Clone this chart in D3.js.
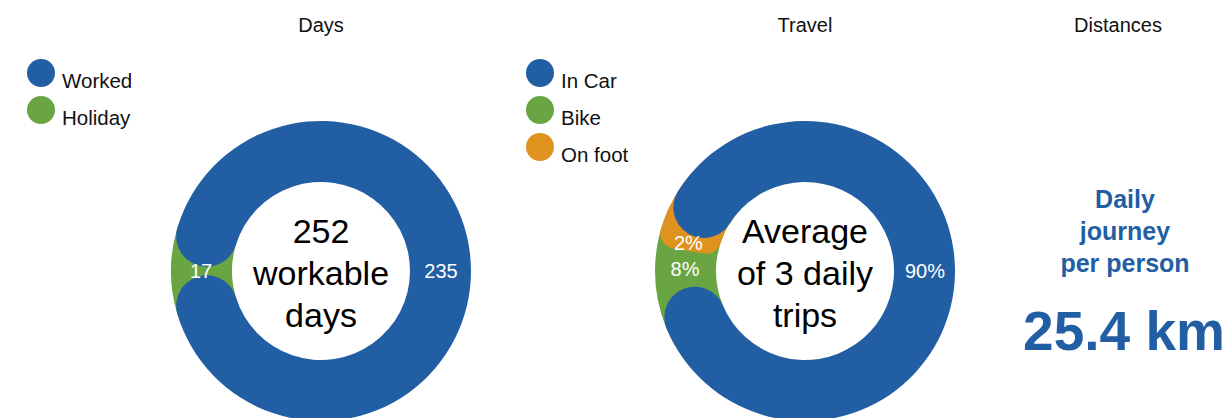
<!DOCTYPE html>
<html>
<head>
<meta charset="utf-8">
<script src="https://cdn.jsdelivr.net/npm/d3@7"></script>
<style>
  body { margin: 0; background: #fff; }
  svg { font-family: "Liberation Sans", Arial, sans-serif; display: block; }
</style>
</head>
<body>
<svg id="chart" width="1229" height="418"></svg>
<script>
// data
const dayLabels = ["Worked", "Holiday"];
const dayValues = [235, 17];
const dayCenter = ["252", "workable", "days"];

const travelLabels = ["In Car", "Bike", "On foot"];
const travelValues = [90, 8, 2];
const travelCenter = ["Average", "of 3 daily", "trips"];

const distanceLines = ["Daily", "journey", "per person"];
const distanceValue = "25.4 km";

const titles = ["Days", "Travel", "Distances"];
const colors = ["#215ea3", "#6aa544", "#e0921f"];

const svg = d3.select("#chart");

const outerR = 150, innerR = 89;
const midR = (outerR + innerR) / 2;
const cr = (outerR - innerR) / 2;
const capA = cr / midR;
const deg = Math.PI / 180;

// how far a slice lying on top reaches into its neighbour
function overlap(own, nb) {
    return Math.min(10 * deg, Math.max(0, (nb - 6 * deg) * 0.55), 0.15 * own);
}

function drawDonut(cx, cy, labels, values, centerText, fmt, legendX) {
    const g = svg.append("g").attr("transform", "translate(" + cx + "," + cy + ")");
    const total = d3.sum(values);
    const span0 = 2 * Math.PI * values[0] / total;
    const start = Math.PI / 2 - span0 / 2;

    const pie = d3.pie().sort(null).value(function(d) { return d; })
        .startAngle(start).endAngle(start + 2 * Math.PI);
    const arcs = pie(values);
    const n = arcs.length;

    // the biggest slice is drawn last, the others in order before it
    const order = d3.range(1, n).concat([0]);
    const rank = [];
    order.forEach(function(k, i) { rank[k] = i; });

    const span = arcs.map(function(a) { return a.endAngle - a.startAngle; });
    const s = [], e = [];
    arcs.forEach(function(a, i) {
        const p = (i - 1 + n) % n, q = (i + 1) % n;
        s[i] = rank[p] < rank[i] ? a.startAngle - overlap(span[i], span[p]) : null;
        e[i] = rank[q] < rank[i] ? a.endAngle + overlap(span[i], span[q]) : null;
    });
    const top0 = s.slice(), top1 = e.slice();
    arcs.forEach(function(a, i) {
        const p = (i - 1 + n) % n, q = (i + 1) % n;
        if (s[i] === null) s[i] = top1[p] - (i === 0 ? 2 * Math.PI : 0) - 2 * capA;
        if (e[i] === null) e[i] = top0[q] + (i === n - 1 ? 2 * Math.PI : 0) + 2 * capA;
    });

    // thin slices get a flatter cap
    const arc = d3.arc().innerRadius(innerR).outerRadius(outerR)
        .cornerRadius(function(d) { return Math.min(cr, d.span * midR); });

    g.selectAll("path.slice")
        .data(order)
        .enter()
        .append("path")
        .attr("class", "slice")
        .attr("d", function(i) { return arc({ startAngle: s[i], endAngle: e[i], span: span[i] }); })
        .attr("fill", function(i) { return colors[i]; });

    // label angle: middle of the part that shows
    function labelAngle(i) {
        if (rank[i] === n - 1) return (arcs[i].startAngle + arcs[i].endAngle) / 2;
        const p = (i - 1 + n) % n, q = (i + 1) % n;
        const a0 = top0[i] !== null ? top0[i] : top1[p] - (i === 0 ? 2 * Math.PI : 0);
        const a1 = top1[i] !== null ? top1[i] : top0[q] + (i === n - 1 ? 2 * Math.PI : 0);
        return (a0 + a1) / 2;
    }

    g.selectAll("text.val")
        .data(arcs)
        .enter()
        .append("text")
        .attr("class", "val")
        .attr("x", function(d, i) { return Math.sin(labelAngle(i)) * 120; })
        .attr("y", function(d, i) { return -Math.cos(labelAngle(i)) * 120; })
        .attr("text-anchor", "middle")
        .attr("dominant-baseline", "central")
        .style("font-size", "20px")
        .style("fill", "#fff")
        .text(function(d) { return fmt(d.data); });

    g.append("text")
        .attr("text-anchor", "middle")
        .style("font-size", "34px")
        .style("fill", "#000")
        .selectAll("tspan")
        .data(centerText)
        .enter()
        .append("tspan")
        .attr("x", 0)
        .attr("y", function(d, i) { return -28 + i * 42; })
        .text(function(d) { return d; });

    // legend
    const leg = svg.append("g");
    leg.selectAll("circle")
        .data(labels)
        .enter()
        .append("circle")
        .attr("cx", legendX)
        .attr("cy", function(d, i) { return 73 + i * 37; })
        .attr("r", 14)
        .style("fill", function(d, i) { return colors[i]; });
    leg.selectAll("text")
        .data(labels)
        .enter()
        .append("text")
        .attr("x", legendX + 21)
        .attr("y", function(d, i) { return 88 + i * 37; })
        .style("font-size", "20.5px")
        .style("fill", "#111")
        .text(function(d) { return d; });
}

// titles
svg.selectAll("text.title")
    .data(titles)
    .enter()
    .append("text")
    .attr("class", "title")
    .attr("x", function(d, i) { return [321, 805, 1118][i]; })
    .attr("y", 32)
    .attr("text-anchor", "middle")
    .style("font-size", "20px")
    .style("fill", "#111")
    .text(function(d) { return d; });

drawDonut(321, 271, dayLabels, dayValues, dayCenter, function(v) { return v; }, 41);
drawDonut(805, 271, travelLabels, travelValues, travelCenter, function(v) { return v + "%"; }, 540);

// distances panel
const dist = svg.append("g");
dist.append("text")
    .attr("text-anchor", "middle")
    .style("font-size", "25px")
    .style("font-weight", "bold")
    .style("fill", colors[0])
    .selectAll("tspan")
    .data(distanceLines)
    .enter()
    .append("tspan")
    .attr("x", 1125)
    .attr("y", function(d, i) { return 208 + i * 32; })
    .text(function(d) { return d; });

dist.append("text")
    .attr("x", 1124)
    .attr("y", 350)
    .attr("text-anchor", "middle")
    .style("font-size", "55px")
    .style("font-weight", "bold")
    .style("fill", colors[0])
    .text(distanceValue);
</script>
</body>
</html>
